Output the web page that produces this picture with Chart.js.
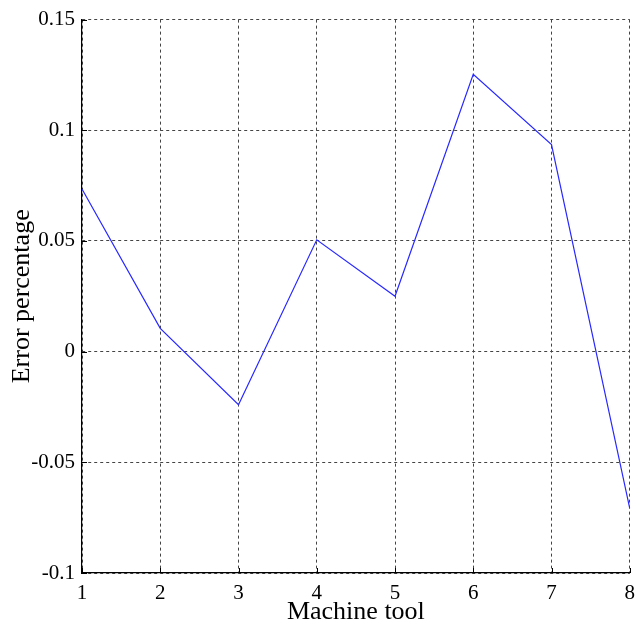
<!DOCTYPE html>
<html lang="en">
<head>
    <meta charset="UTF-8">
    <title>Error percentage by machine tool</title>
    <script src="https://cdn.jsdelivr.net/npm/chart.js"></script>
    <style>
        body { margin: 0; background: #fff; }
        canvas { display: block; }
    </style>
</head>
<body>
<canvas id="errorChart" width="643" height="632"></canvas>

<script>
    // values
    const machineTools = ['1', '2', '3', '4', '5', '6', '7', '8'];
    const errorPercentage = [0.0735, 0.0105, -0.024, 0.0505, 0.025, 0.1253, 0.0935, -0.0708];
    const yTicks = [-0.1, -0.05, 0, 0.05, 0.1, 0.15];

    const serif = "'Liberation Serif', 'Times New Roman', serif";

    // small inward tick marks on the left and bottom axes (MATLAB style)
    const innerTicks = {
        id: 'innerTicks',
        afterDraw(chart) {
            const { ctx, chartArea, scales } = chart;
            ctx.save();
            ctx.setLineDash([]);
            ctx.strokeStyle = '#000';
            ctx.lineWidth = 1;
            ctx.beginPath();
            machineTools.forEach((label, i) => {
                const x = Math.round(scales.x.getPixelForValue(i)) + 0.5;
                ctx.moveTo(x, chartArea.bottom);
                ctx.lineTo(x, chartArea.bottom - 5);
            });
            yTicks.forEach(v => {
                const y = Math.round(scales.y.getPixelForValue(v)) + 0.5;
                ctx.moveTo(chartArea.left, y);
                ctx.lineTo(chartArea.left + 5, y);
            });
            ctx.stroke();
            ctx.restore();
        }
    };

    const ctx = document.getElementById('errorChart').getContext('2d');
    new Chart(ctx, {
        type: 'line',
        data: {
            labels: machineTools,
            datasets: [{
                label: 'Error percentage',
                data: errorPercentage,
                borderColor: 'rgb(40, 40, 255)',
                borderWidth: 1.2,
                pointRadius: 0,
                tension: 0,
                fill: false
            }]
        },
        options: {
            responsive: false,
            animation: false,
            layout: { padding: { top: 17, right: 7, left: 0, bottom: 0 } },
            plugins: {
                legend: { display: false },
                tooltip: { enabled: false }
            },
            scales: {
                x: {
                    type: 'category',
                    offset: false,
                    afterFit: s => { s.height = 59; },
                    grid: { color: '#444', lineWidth: 1, drawTicks: false },
                    // border.dash styles the grid lines in v4
                    border: { display: true, color: '#000', width: 1.2, dash: [3, 3] },
                    ticks: {
                        color: '#000',
                        padding: 8,
                        maxRotation: 0,
                        font: { family: serif, size: 21 }
                    },
                    title: {
                        display: true,
                        text: 'Machine tool',
                        color: '#000',
                        padding: { top: 0, bottom: 4 },
                        font: { family: serif, size: 26 }
                    }
                },
                y: {
                    min: -0.1,
                    max: 0.15,
                    afterFit: s => { s.width = 82; },
                    afterBuildTicks: s => { s.ticks = yTicks.map(v => ({ value: v })); },
                    grid: { color: '#444', lineWidth: 1, drawTicks: false },
                    border: { display: true, color: '#000', width: 1.2, dash: [3, 3] },
                    ticks: {
                        color: '#000',
                        padding: 7,
                        font: { family: serif, size: 21 },
                        callback: v => String(parseFloat(Number(v).toFixed(2)))
                    },
                    title: {
                        display: true,
                        text: 'Error percentage',
                        color: '#000',
                        padding: { top: 7, bottom: 0 },
                        font: { family: serif, size: 26 }
                    }
                }
            }
        },
        plugins: [innerTicks]
    });
</script>
</body>
</html>
